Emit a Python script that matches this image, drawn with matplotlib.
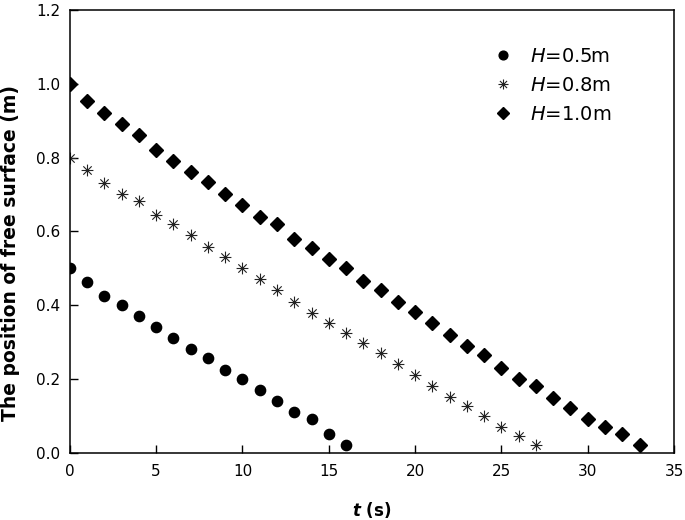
import matplotlib
matplotlib.use("Agg")
import matplotlib.pyplot as plt
import numpy as np
from matplotlib.path import Path

plt.rcParams['font.family'] = ['DejaVu Sans']
plt.rcParams['mathtext.fontset'] = 'custom'
plt.rcParams['mathtext.rm'] = 'DejaVu Sans'
plt.rcParams['mathtext.it'] = 'DejaVu Sans:italic'
plt.rcParams['mathtext.bf'] = 'DejaVu Sans:bold'
try:
    plt.rcParams['mathtext.bfit'] = 'DejaVu Sans:italic:bold'
except KeyError:
    pass

# Data
t_05 = list(range(0, 17))
h_05 = [0.500, 0.462, 0.426, 0.401, 0.371, 0.341, 0.310, 0.281, 0.256, 0.225,
        0.200, 0.171, 0.141, 0.110, 0.091, 0.051, 0.022]

t_08 = list(range(0, 28))
h_08 = [0.800, 0.765, 0.731, 0.701, 0.681, 0.645, 0.621, 0.591, 0.559, 0.530,
        0.500, 0.471, 0.442, 0.410, 0.380, 0.351, 0.326, 0.297, 0.270, 0.240,
        0.210, 0.180, 0.151, 0.126, 0.100, 0.071, 0.046, 0.022]

t_10 = list(range(0, 34))
h_10 = [1.000, 0.952, 0.921, 0.891, 0.862, 0.820, 0.790, 0.761, 0.735, 0.702,
        0.672, 0.640, 0.621, 0.579, 0.555, 0.526, 0.502, 0.466, 0.442, 0.410,
        0.381, 0.351, 0.320, 0.290, 0.266, 0.230, 0.200, 0.180, 0.150, 0.121,
        0.091, 0.071, 0.051, 0.022]

labels = [r'$\it{H}$=0.5m', r'$\it{H}$=0.8m', r'$\it{H}$=1.0m']
x_ticks = [0, 5, 10, 15, 20, 25, 30, 35]
y_ticks = [0.0, 0.2, 0.4, 0.6, 0.8, 1.0, 1.2]

# 8-arm asterisk marker
verts = []
codes = []
for ang in [0, 45, 90, 135]:
    a = np.deg2rad(ang)
    verts += [(-np.cos(a), -np.sin(a)), (np.cos(a), np.sin(a))]
    codes += [Path.MOVETO, Path.LINETO]
asterisk = Path(verts, codes)

fig = plt.figure(figsize=(6.85, 5.2), dpi=100)
ax = fig.add_axes([0.102, 0.129, 0.882, 0.852])

ax.plot(t_05, h_05, linestyle='none', marker='o', ms=7.4, color='black',
        label=labels[0])
ax.plot(t_08, h_08, linestyle='none', marker=asterisk, ms=8.5, color='#222222',
        mew=0.8, fillstyle='none', label=labels[1])
ax.plot(t_10, h_10, linestyle='none', marker='D', ms=7.2, color='black',
        label=labels[2])

ax.set_xlim(0, 35)
ax.set_ylim(0, 1.2)
ax.set_xticks(x_ticks)
ax.set_yticks(y_ticks)
ax.set_xticklabels([str(v) for v in x_ticks])
ax.set_yticklabels([f'{v:.1f}' for v in y_ticks])
ax.tick_params(direction='in', length=6, width=1.0, labelsize=11,
               top=False, right=False)
ax.tick_params(axis='x', pad=8)
ax.tick_params(axis='y', pad=7)
for s in ax.spines.values():
    s.set_linewidth(1.1)

ax.set_xlabel(r'$\mathbfit{t}$ (s)', fontsize=12, fontweight='bold')
ax.xaxis.set_label_coords(0.5, -0.106)
ax.set_ylabel('The position of free surface (m)', fontsize=13.5,
              fontweight='bold')
ax.yaxis.set_label_coords(-0.083, 0.452)

leg = ax.legend(loc='upper left', bbox_to_anchor=(0.700, 0.917), frameon=False,
                fontsize=14, handletextpad=0.92, labelspacing=0.53,
                handlelength=1.0, markerscale=0.85, borderpad=0,
                borderaxespad=0)

fig.savefig('out.png', dpi=100)
